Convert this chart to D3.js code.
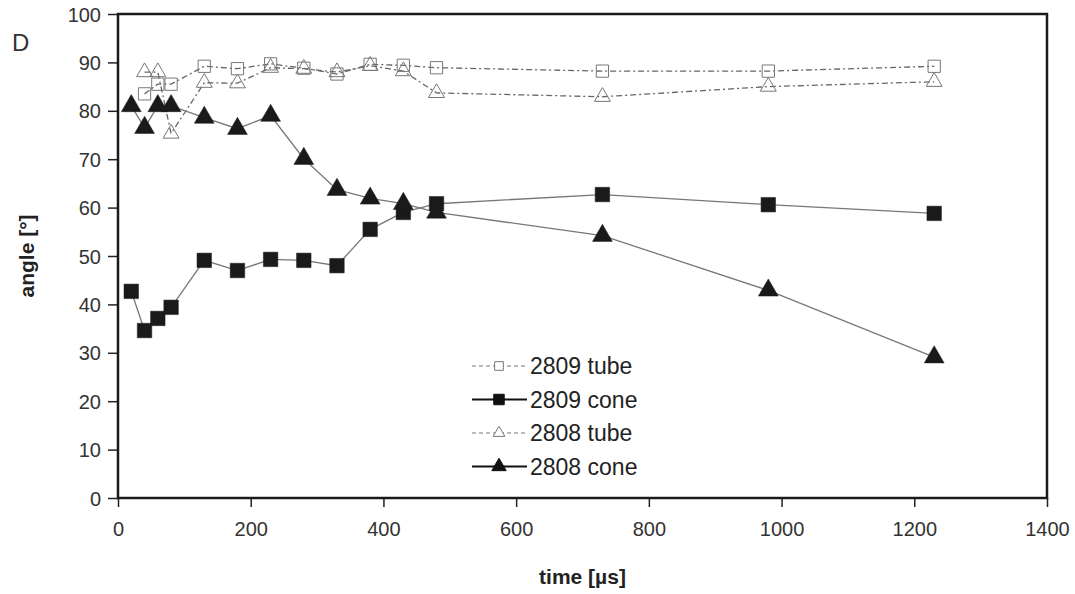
<!DOCTYPE html>
<html>
<head>
<meta charset="utf-8">
<script src="https://cdn.jsdelivr.net/npm/d3@7"></script>
<style>
  body { margin: 0; background: #fff; }
  text { font-family: "Liberation Sans", Arial, sans-serif; }
</style>
</head>
<body>
<div id="chart"></div>
<script>
// time values (µs) for each series
const timeCone = [20, 40, 60, 80, 130, 180, 230, 280, 330, 380, 430, 480, 730, 980, 1230];
const timeTube = [40, 60, 80, 130, 180, 230, 280, 330, 380, 430, 480, 730, 980, 1230];

// angles
const tube2809 = [83.5, 85.5, 85.5, 89.2, 88.7, 89.7, 88.8, 87.6, 89.6, 89.4, 88.9, 88.2, 88.2, 89.2];
const cone2809 = [42.7, 34.6, 37.1, 39.4, 49.1, 47.0, 49.3, 49.1, 48.0, 55.5, 59.0, 60.8, 62.7, 60.6, 58.8];
const tube2808 = [88.0, 88.0, 75.3, 85.8, 85.7, 88.9, 88.7, 88.0, 89.3, 88.2, 83.7, 82.9, 85.0, 86.0];
const cone2808 = [81.0, 76.5, 81.0, 81.0, 78.6, 76.3, 79.0, 70.1, 63.7, 61.9, 60.8, 59.0, 54.2, 42.9, 29.1];

const xTicks = [0, 200, 400, 600, 800, 1000, 1200, 1400];
const yTicks = [0, 10, 20, 30, 40, 50, 60, 70, 80, 90, 100];

const seriesNames = ["2809 tube", "2809 cone", "2808 tube", "2808 cone"];

const series = [
  {name: seriesNames[0], x: timeTube, y: tube2809, marker: "square", filled: false},
  {name: seriesNames[1], x: timeCone, y: cone2809, marker: "square", filled: true},
  {name: seriesNames[2], x: timeTube, y: tube2808, marker: "triangle", filled: false},
  {name: seriesNames[3], x: timeCone, y: cone2808, marker: "triangle", filled: true}
];

const W = 1075, H = 594;
const svg = d3.select("#chart").append("svg")
    .attr("width", W)
    .attr("height", H);

const x = d3.scaleLinear().domain([0, 1400]).range([118, 1047]);
const y = d3.scaleLinear().domain([0, 100]).range([498, 14]);

// axes
const xAxis = svg.append("g")
    .attr("transform", `translate(0, ${y(0)})`)
    .call(d3.axisBottom(x).tickValues(xTicks).tickFormat(d3.format("d"))
        .tickSize(9).tickSizeOuter(0).tickPadding(15));
xAxis.select(".domain").remove();
xAxis.selectAll("line").attr("stroke", "#222").attr("stroke-width", 1.5);
xAxis.selectAll("text")
    .attr("fill", "#333")
    .style("font-size", "20px");

const yAxis = svg.append("g")
    .attr("transform", `translate(${x(0)}, 0)`)
    .call(d3.axisLeft(y).tickValues(yTicks).tickSize(10).tickSizeOuter(0).tickPadding(7));
yAxis.select(".domain").remove();
yAxis.selectAll("line").attr("stroke", "#222").attr("stroke-width", 1.5);
yAxis.selectAll("text")
    .attr("fill", "#333")
    .attr("dy", "0.35em")
    .style("font-size", "20px");

// frame
svg.append("rect")
    .attr("x", x(0))
    .attr("y", y(100))
    .attr("width", x(1400) - x(0))
    .attr("height", y(0) - y(100))
    .attr("fill", "none")
    .attr("stroke", "#1a1a1a")
    .attr("stroke-width", 2.5);

// lines
const line = d3.line().x(d => x(d[0])).y(d => y(d[1]));

const graph = svg.append("g");

series.forEach(s => {
  const pts = s.x.map((t, i) => [t, s.y[i]]);
  graph.append("path")
      .datum(pts)
      .attr("d", line)
      .attr("fill", "none")
      .attr("stroke", s.filled ? "#777" : "#666")
      .attr("stroke-width", 1.3)
      .attr("stroke-dasharray", s.filled ? null : "6,3,2,3");
});

// markers
const sqFilled = d3.symbol().type(d3.symbolSquare).size(210);
const sqOpen = d3.symbol().type(d3.symbolSquare).size(150);
const triFilled = d3.symbol().type(d3.symbolTriangle).size(170);
const triOpen = d3.symbol().type(d3.symbolTriangle).size(110);

function markerPath(s) {
  if (s.marker === "square") return s.filled ? sqFilled() : sqOpen();
  return s.filled ? triFilled() : triOpen();
}

series.forEach(s => {
  const pts = s.x.map((t, i) => [t, s.y[i]]);
  graph.selectAll(null)
      .data(pts)
      .enter()
      .append("path")
      .attr("d", markerPath(s))
      .attr("transform", d => `translate(${x(d[0])}, ${y(d[1])})`)
      .attr("fill", s.filled ? "#1a1a1a" : "none")
      .attr("stroke", s.filled ? "#1a1a1a" : "#777")
      .attr("stroke-width", s.filled ? 0.5 : 1);
});

// legend
const legend = svg.append("g").attr("transform", "translate(472, 366)");
series.forEach((s, i) => {
  const row = legend.append("g").attr("transform", `translate(0, ${i * 33.5})`);
  row.append("line")
      .attr("x1", 0).attr("x2", 55)
      .attr("stroke", s.filled ? "#111" : "#777")
      .attr("stroke-width", s.filled ? 2 : 1.2)
      .attr("stroke-dasharray", s.filled ? null : "4,3");
  const sym = s.marker === "square"
      ? d3.symbol().type(d3.symbolSquare).size(s.filled ? 110 : 75)()
      : d3.symbol().type(d3.symbolTriangle).size(s.filled ? 90 : 60)();
  row.append("path")
      .attr("d", sym)
      .attr("transform", "translate(27, 0)")
      .attr("fill", s.filled ? "#111" : "#fff")
      .attr("stroke", s.filled ? "#111" : "#777")
      .attr("stroke-width", 1);
  row.append("text")
      .attr("x", 58)
      .attr("dy", "0.35em")
      .attr("fill", "#222")
      .style("font-size", "23px")
      .text(s.name);
});

// titles
svg.append("text")
    .attr("x", (x(0) + x(1400)) / 2)
    .attr("y", 584)
    .attr("text-anchor", "middle")
    .attr("fill", "#222")
    .style("font-size", "21px")
    .style("font-weight", "bold")
    .text("time [µs]");

svg.append("text")
    .attr("transform", `translate(34, ${(y(0) + y(100)) / 2}) rotate(-90)`)
    .attr("text-anchor", "middle")
    .attr("fill", "#222")
    .style("font-size", "21px")
    .style("font-weight", "bold")
    .text("angle [°]");

svg.append("text")
    .attr("x", 12)
    .attr("y", 51)
    .attr("fill", "#333")
    .style("font-size", "24px")
    .text("D");
</script>
</body>
</html>
